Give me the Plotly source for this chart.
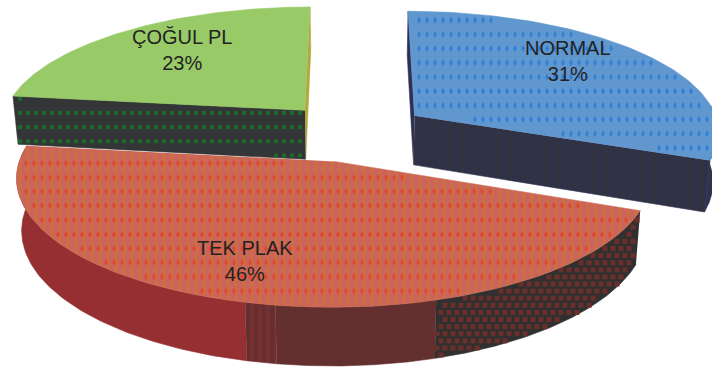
import numpy as np
import plotly.graph_objects as go

# Slice data
labels = ["NORMAL", "TEK PLAK", "ÇOĞUL PL"]
values = [31, 46, 23]
percent_text = ["31%", "46%", "23%"]

# Camera and disc parameters (pixels unless noted)
X0, RADIUS, DEPTH_K = 353.5, 306.0, 0.12
HORIZON, CAM_H = -873.0, 1005.0
THICKNESS, BOTTOM_SHRINK = 50.0, 0.015
EXPLODE = 0.245
DOT_DX, DOT_DY = 8.0, 14.2


def project(u, v, drop=0.0):
    """Map disc coordinates (u right, v back) and a drop below the top face to pixels."""
    s = 1.0 / (1.0 + DEPTH_K * v)
    shrink = 1.0 - BOTTOM_SHRINK * (drop / THICKNESS)
    return X0 + s * u * RADIUS * shrink, HORIZON + CAM_H * s + drop * s


def rim(a0, a1, off, drop=0.0, n=90):
    t = np.radians(np.linspace(a0, a1, n))
    return project(off[0] + np.sin(t), off[1] + np.cos(t), drop)


def inside(px, py, polyx, polyy):
    """Even-odd test of points against a closed polygon."""
    hit = np.zeros(px.shape, bool)
    j = len(polyx) - 1
    for i in range(len(polyx)):
        cross = (polyy[i] > py) != (polyy[j] > py)
        with np.errstate(divide="ignore", invalid="ignore"):
            xs = (polyx[j] - polyx[i]) * (py - polyy[i]) / (polyy[j] - polyy[i]) + polyx[i]
        hit ^= cross & (px < xs)
        j = i
    return hit


fig = go.Figure()


def polygon(x, y, color, pattern=None):
    fig.add_trace(go.Scatter(
        x=np.asarray(x), y=np.asarray(y), mode="lines", fill="toself", fillcolor=color,
        line=dict(width=0.6, color=color), fillpattern=pattern, hoverinfo="skip", showlegend=False,
    ))


def dots(x, y, color, symbol, size, phase=(0.0, 0.0), margin=(2.5, 4.0)):
    """Texture a polygon with a lattice of small marks kept clear of its border."""
    x, y = np.asarray(x), np.asarray(y)
    gx, gy = np.meshgrid(np.arange(phase[0], 712, DOT_DX), np.arange(phase[1], 368, DOT_DY))
    gx, gy = gx.ravel(), gy.ravel()
    keep = np.ones(gx.shape, bool)
    for sx in (-1, 1):
        for sy in (-1, 1):
            keep &= inside(gx + sx * margin[0], gy + sy * margin[1], x, y)
    fig.add_trace(go.Scatter(
        x=gx[keep], y=gy[keep], mode="markers", hoverinfo="skip", showlegend=False,
        marker=dict(symbol=symbol, size=size, color=color, line=dict(width=0)),
    ))


def cut_face(angle, off, color, pattern=None):
    ax, ay = project(off[0], off[1])
    bx, by = project(off[0], off[1], THICKNESS)
    rx0, ry0 = rim(angle, angle, off, 0, 1)
    rx1, ry1 = rim(angle, angle, off, THICKNESS, 1)
    x = [ax, rx0[0], rx1[0], bx]
    y = [ay, ry0[0], ry1[0], by]
    polygon(x, y, color, pattern)
    return x, y


def wall(a0, a1, off, color, pattern=None):
    tx, ty = rim(a0, a1, off)
    bx, by = rim(a0, a1, off, THICKNESS)
    x, y = np.r_[tx, bx[::-1]], np.r_[ty, by[::-1]]
    polygon(x, y, color, pattern)
    return x, y


def top_face(a0, a1, off, color, pattern=None):
    ax, ay = project(off[0], off[1])
    rx, ry = rim(a0, a1, off)
    x, y = np.r_[ax, rx], np.r_[ay, ry]
    polygon(x, y, color, pattern)
    return x, y


# Slice angles run clockwise from twelve o'clock
edges = np.cumsum([0] + values) / sum(values) * 360.0
offsets = []
for a0, a1 in zip(edges[:-1], edges[1:]):
    mid = np.radians((a0 + a1) / 2)
    offsets.append((EXPLODE * np.sin(mid), EXPLODE * np.cos(mid)))

normal, tek, cogul = 0, 1, 2

# Green slice, furthest back on the left
off = offsets[cogul]
cut_face(edges[3], off, "#B3A83C")
fx, fy = cut_face(edges[2], off, "#333536")
dots(fx, fy, "#1F6A2B", "square", 4, phase=(4, 13.5), margin=(1.5, 2.0))
top_face(edges[2], edges[3], off, "#98CB68")

# Blue slice, exploded to the right
off = offsets[normal]
cut_face(edges[0], off, "#2D2F55")
cut_face(edges[1], off, "#32324F", dict(shape="|", bgcolor="#333338", fgcolor="#25306C", size=6, solidity=0.5))
wall(85, edges[1], off, "#32324F")
x, y = top_face(edges[0], edges[1], off, "#6097CF")
dots(x, y, "#2F7FD8", "diamond-tall", 5, phase=(3, 6))

# Red slice, in front: the outer wall darkens from left to right
off = offsets[tek]
wx, wy = wall(edges[1], 163, off, "#303031")
dots(wx, wy, "#6B2F2A", "square", 5, phase=(1, 0), margin=(1.5, 1.5))
dots(wx, wy, "#6B2F2A", "square", 5, phase=(5, 7.1), margin=(1.5, 1.5))
wall(163, 189, off, "#632F2F")
wall(189, 194, off, "#7A2F30", dict(shape="|", bgcolor="#632F2F", fgcolor="#962F31", size=8, solidity=0.4))
wall(194, edges[2], off, "#962F31")
x, y = top_face(edges[1], edges[2], off, "#CC6A50",
                dict(shape="|", bgcolor="#C9655E", fgcolor="#D2732F", size=8, solidity=0.5))
dots(x, y, "#E2472C", "diamond-tall", 5, phase=(2, 7))

# Data labels
label_pos = {"NORMAL": (568, 61), "TEK PLAK": (245, 261), "ÇOĞUL PL": (182, 50)}
for name, pct in zip(labels, percent_text):
    lx, ly = label_pos[name]
    fig.add_annotation(x=lx, y=ly, text=f"{name}<br>{pct}", showarrow=False, align="center",
                       font=dict(family="Liberation Sans", size=20, color="#222222"))

fig.update_layout(
    width=712, height=368, margin=dict(l=0, r=0, t=0, b=0),
    paper_bgcolor="white", plot_bgcolor="white", showlegend=False,
    xaxis=dict(range=[0, 712], visible=False, fixedrange=True),
    yaxis=dict(range=[368, 0], visible=False, fixedrange=True),
)

fig.write_html("out.html", config=dict(displayModeBar=False))
